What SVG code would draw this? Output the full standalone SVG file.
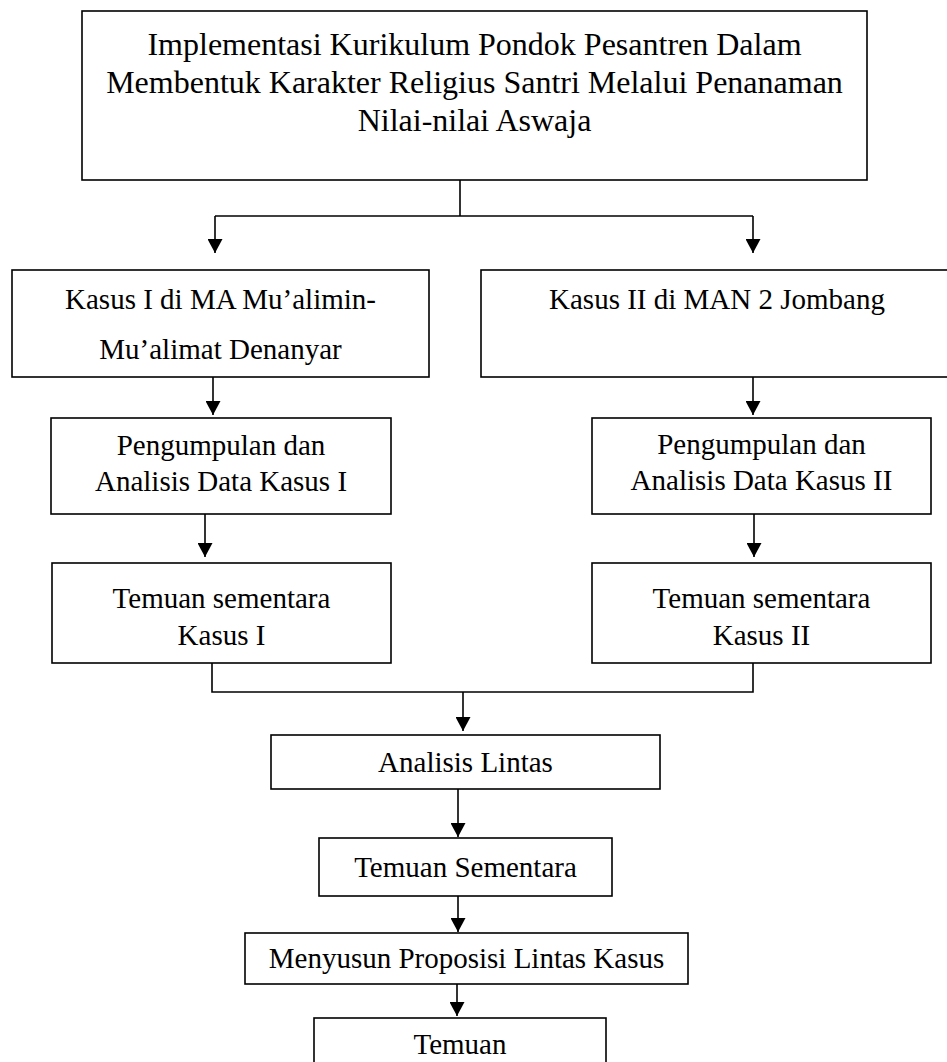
<svg xmlns="http://www.w3.org/2000/svg" width="947" height="1062" viewBox="0 0 947 1062">
<style>
.box{fill:#fff;stroke:#000;stroke-width:1.6}
.t{font-family:"Liberation Serif","Times New Roman",serif;font-size:29px;fill:#000;text-anchor:middle}
.tt{font-size:32px}
.ln{fill:none;stroke:#000;stroke-width:1.6}
</style>
<defs>
<marker id="ah" markerUnits="userSpaceOnUse" markerWidth="15" markerHeight="15" viewBox="0 0 15 15" refX="14" refY="7.5" orient="auto">
<path d="M0,0 L14,7.5 L0,15 z" fill="#000"/>
</marker>
</defs>
<rect width="947" height="1062" fill="#fff"/>
<g id="connectors">
<path class="ln" d="M460,180 V216"/>
<path class="ln" d="M215,216 H753"/>
<path class="ln" d="M215,216 V253" marker-end="url(#ah)"/>
<path class="ln" d="M753,216 V253" marker-end="url(#ah)"/>
<path class="ln" d="M213,377 V415" marker-end="url(#ah)"/>
<path class="ln" d="M753,377 V415" marker-end="url(#ah)"/>
<path class="ln" d="M205,514 V557" marker-end="url(#ah)"/>
<path class="ln" d="M754,514 V557" marker-end="url(#ah)"/>
<path class="ln" d="M212,663 V692 H753 V663"/>
<path class="ln" d="M463,692 V731" marker-end="url(#ah)"/>
<path class="ln" d="M458,789 V837" marker-end="url(#ah)"/>
<path class="ln" d="M458,896 V932" marker-end="url(#ah)"/>
<path class="ln" d="M457,984 V1016" marker-end="url(#ah)"/>
</g>
<g id="top">
<rect class="box" x="82" y="11" width="785" height="169"/>
<text class="t tt" x="474.5" y="55">Implementasi Kurikulum Pondok Pesantren Dalam</text>
<text class="t tt" x="474.5" y="93">Membentuk Karakter Religius Santri Melalui Penanaman</text>
<text class="t tt" x="474.5" y="131">Nilai-nilai Aswaja</text>
</g>
<g id="kasus1">
<rect class="box" x="12" y="270" width="417" height="107"/>
<text class="t" x="220.5" y="309">Kasus I di MA Mu’alimin-</text>
<text class="t" x="220.5" y="359">Mu’alimat Denanyar</text>
</g>
<g id="kasus2">
<rect class="box" x="481" y="270" width="480" height="107"/>
<text class="t" x="717" y="309">Kasus II di MAN 2 Jombang</text>
</g>
<g id="pengumpulan1">
<rect class="box" x="51" y="418" width="340" height="96"/>
<text class="t" x="221" y="455">Pengumpulan dan</text>
<text class="t" x="221" y="491">Analisis Data Kasus I</text>
</g>
<g id="pengumpulan2">
<rect class="box" x="592" y="418" width="339" height="96"/>
<text class="t" x="761.5" y="454">Pengumpulan dan</text>
<text class="t" x="761.5" y="490">Analisis Data Kasus II</text>
</g>
<g id="temuan1">
<rect class="box" x="52" y="563" width="339" height="100"/>
<text class="t" x="221.5" y="608">Temuan sementara</text>
<text class="t" x="221.5" y="645">Kasus I</text>
</g>
<g id="temuan2">
<rect class="box" x="592" y="563" width="339" height="100"/>
<text class="t" x="761.5" y="608">Temuan sementara</text>
<text class="t" x="761.5" y="645">Kasus II</text>
</g>
<g id="analisis">
<rect class="box" x="271" y="735" width="389" height="54"/>
<text class="t" x="465.5" y="772">Analisis Lintas</text>
</g>
<g id="temuan-sementara">
<rect class="box" x="319" y="838" width="293" height="58"/>
<text class="t" x="465.5" y="877">Temuan Sementara</text>
</g>
<g id="menyusun">
<rect class="box" x="245" y="933" width="443" height="51"/>
<text class="t" x="466.5" y="968">Menyusun Proposisi Lintas Kasus</text>
</g>
<g id="temuan">
<rect class="box" x="314" y="1018" width="292" height="60"/>
<text class="t" x="460" y="1054">Temuan</text>
</g>
</svg>
